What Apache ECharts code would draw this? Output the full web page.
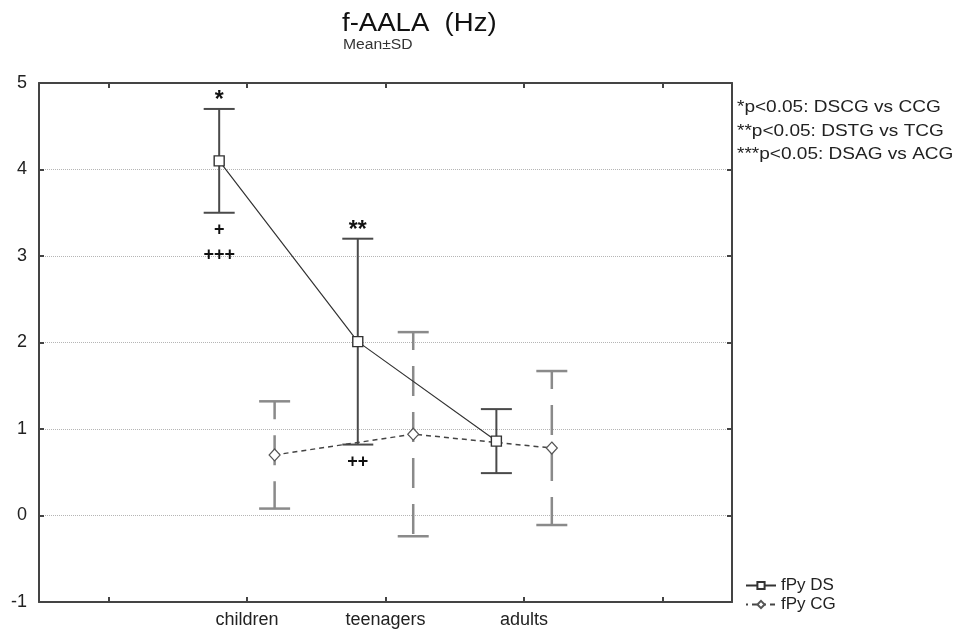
<!DOCTYPE html>
<html>
<head>
<meta charset="utf-8">
<script src="https://cdn.jsdelivr.net/npm/echarts@6/dist/echarts.min.js"></script>
<style>
  html, body { margin: 0; padding: 0; background: #fff; }
  #chart { width: 958px; height: 632px; }
</style>
</head>
<body>
<div id="chart"></div>
<script>
// Age groups along the x axis
const categories = ['children', 'teenagers', 'adults'];

// fPy DS group: mean and standard deviation
const dsMean = [4.10, 2.01, 0.86];
const dsSD = [0.60, 1.19, 0.37];

// fPy CG group: mean and standard deviation
const cgMean = [0.70, 0.94, 0.78];
const cgSD = [0.62, 1.18, 0.89];

// Significance marks drawn above / below the DS error bars
const dsAbove = ['*', '**', ''];
const dsBelow = ['+\n+++', '++', ''];

// Significance notes shown to the right of the plot
const notes = ['*p<0.05: DSCG vs CCG', '**p<0.05: DSTG vs TCG', '***p<0.05: DSAG vs ACG'];

// Axis range
const yMin = -1, yMax = 5, yStep = 1;

// Empty slots at both ends of the category axis
const axisCategories = [''].concat(categories, ['']);
const SHIFT = 0.2;        // horizontal offset of each group from its category centre
const CAP = 15.5;         // half-width of error bar caps (px)
const FONT = 'Liberation Sans, Arial, sans-serif';
const STRETCH = 1.12;     // horizontal stretch of the free-standing texts

const dsPoints = categories.map((c, i) => [i + 1 - SHIFT, dsMean[i]]);
const cgPoints = categories.map((c, i) => [i + 1 + SHIFT, cgMean[i]]);
const dsBars = categories.map((c, i) => [i + 1 - SHIFT, dsMean[i] - dsSD[i], dsMean[i] + dsSD[i]]);
const cgBars = categories.map((c, i) => [i + 1 + SHIFT, cgMean[i] - cgSD[i], cgMean[i] + cgSD[i]]);
const marks = categories.map((c, i) => [i + 1 - SHIFT, dsMean[i] - dsSD[i], dsMean[i] + dsSD[i], i]);

function errorBar(color, width, dash) {
  return function (params, api) {
    const x = api.value(0);
    const top = api.coord([x, api.value(2)]);
    const bot = api.coord([x, api.value(1)]);
    return {
      type: 'group',
      children: [
        { type: 'line', shape: { x1: top[0], y1: top[1], x2: bot[0], y2: bot[1] },
          style: { stroke: color, lineWidth: width, lineDash: dash || null, lineDashOffset: dash ? 12 : 0 } },
        { type: 'line', shape: { x1: top[0] - CAP, y1: top[1], x2: top[0] + CAP, y2: top[1] },
          style: { stroke: color, lineWidth: width } },
        { type: 'line', shape: { x1: bot[0] - CAP, y1: bot[1], x2: bot[0] + CAP, y2: bot[1] },
          style: { stroke: color, lineWidth: width } }
      ]
    };
  };
}

function markItem(params, api) {
  const x = api.value(0);
  const idx = api.value(3);
  const top = api.coord([x, api.value(2)]);
  const bot = api.coord([x, api.value(1)]);
  const children = [];
  if (dsAbove[idx]) {
    children.push({ type: 'text', x: top[0], y: top[1] + 3,
      style: { text: dsAbove[idx], fill: '#111', font: 'bold 23px ' + FONT, align: 'center', verticalAlign: 'bottom' } });
  }
  if (dsBelow[idx]) {
    children.push({ type: 'text', x: bot[0], y: bot[1] + 5,
      style: { text: dsBelow[idx], fill: '#111', font: 'bold 18px ' + FONT, lineHeight: 25, align: 'center', verticalAlign: 'top' } });
  }
  return { type: 'group', children: children };
}

const axisLine = { onZero: false, lineStyle: { color: '#444', width: 2 } };
const axisTick = { show: true, inside: true, length: 5, lineStyle: { color: '#444', width: 2 } };

const chart = echarts.init(document.getElementById('chart'));
chart.setOption({
  animation: false,
  backgroundColor: '#fff',
  textStyle: { fontFamily: FONT },
  grid: { left: 39, right: 226, top: 83, bottom: 30, containLabel: false },
  legend: {
    data: ['fPy DS', 'fPy CG'],
    orient: 'vertical',
    left: 740,
    top: 572,
    itemWidth: 30,
    itemHeight: 9,
    itemGap: 2,
    textStyle: { fontSize: 17, color: '#222', fontFamily: FONT }
  },
  graphic: [
    { type: 'text', x: 342, y: 11, scaleX: 1.06,
      style: { text: 'f-AALA  (Hz)', fill: '#111', font: '26px ' + FONT, align: 'left', verticalAlign: 'top' } },
    { type: 'text', x: 343, y: 38, scaleX: STRETCH,
      style: { text: 'Mean±SD', fill: '#333', font: '14px ' + FONT, align: 'left', verticalAlign: 'top' } }
  ].concat(notes.map((t, i) => ({
    type: 'text', x: 737, y: 99 + i * 23.5, scaleX: STRETCH,
    style: { text: t, fill: '#222', font: '17px ' + FONT, align: 'left', verticalAlign: 'top' }
  }))),
  xAxis: [
    {
      type: 'category', data: axisCategories, position: 'bottom', boundaryGap: true,
      axisLine: axisLine,
      axisTick: Object.assign({ alignWithLabel: true }, axisTick),
      axisLabel: { fontSize: 18, color: '#222', margin: 9 },
      splitLine: { show: false }
    },
    { type: 'value', min: -0.5, max: 4.5, show: false },
    {
      type: 'category', data: axisCategories, position: 'top', boundaryGap: true,
      axisLine: axisLine,
      axisTick: Object.assign({ alignWithLabel: true }, axisTick),
      axisLabel: { show: false },
      splitLine: { show: false }
    }
  ],
  yAxis: [
    {
      type: 'value', min: yMin, max: yMax, interval: yStep, position: 'left',
      axisLine: Object.assign({ show: true }, axisLine),
      axisTick: axisTick,
      axisLabel: { fontSize: 18, color: '#222', margin: 12 },
      splitLine: { show: true, lineStyle: { color: '#b5b5b5', type: 'dotted', width: 1 } }
    },
    {
      type: 'value', min: yMin, max: yMax, interval: yStep, position: 'right',
      axisLine: Object.assign({ show: true }, axisLine),
      axisTick: axisTick,
      axisLabel: { show: false },
      splitLine: { show: false }
    }
  ],
  series: [
    {
      name: 'DS SD', type: 'custom', xAxisIndex: 1, yAxisIndex: 0, z: 2,
      renderItem: errorBar('#4a4a4a', 2), data: dsBars, encode: { x: 0, y: [1, 2] }, silent: true
    },
    {
      name: 'CG SD', type: 'custom', xAxisIndex: 1, yAxisIndex: 0, z: 2,
      renderItem: errorBar('#8a8a8a', 2.5, [30, 16]), data: cgBars, encode: { x: 0, y: [1, 2] }, silent: true
    },
    {
      name: 'fPy DS', type: 'line', xAxisIndex: 1, yAxisIndex: 0, z: 4,
      data: dsPoints, symbol: 'rect', symbolSize: 10,
      lineStyle: { color: '#333', width: 1.2 },
      itemStyle: { color: '#fff', borderColor: '#333', borderWidth: 1.4 }
    },
    {
      name: 'fPy CG', type: 'line', xAxisIndex: 1, yAxisIndex: 0, z: 4,
      data: cgPoints, symbol: 'diamond', symbolSize: [11, 12],
      lineStyle: { color: '#444', width: 1.5, type: [5, 4] },
      itemStyle: { color: '#fff', borderColor: '#555', borderWidth: 1.2 }
    },
    {
      name: 'marks', type: 'custom', xAxisIndex: 1, yAxisIndex: 0, z: 5,
      renderItem: markItem, data: marks, encode: { x: 0, y: [1, 2] }, silent: true
    }
  ]
});
</script>
</body>
</html>
